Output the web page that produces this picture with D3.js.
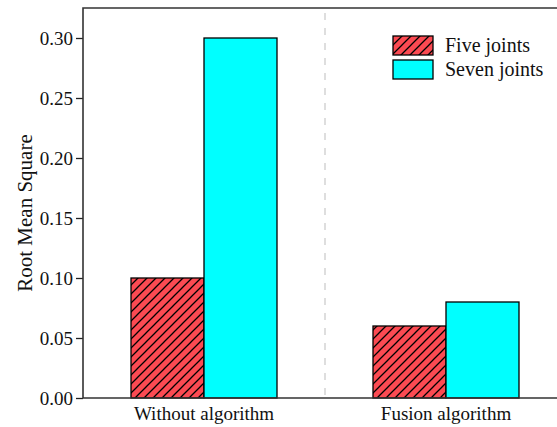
<!DOCTYPE html>
<html>
<head>
<meta charset="utf-8">
<script src="https://cdn.jsdelivr.net/npm/d3@7"></script>
<style>
body { margin: 0; background: #fff; }
svg text { font-family: "Liberation Serif", "Times New Roman", serif; fill: #111; }
</style>
</head>
<body>
<svg id="chart" width="557" height="427"></svg>
<script>
var categories = ["Without algorithm", "Fusion algorithm"];
var seriesNames = ["Five joints", "Seven joints"];
var fiveJoints = [0.10, 0.06];
var sevenJoints = [0.30, 0.08];
var yTicks = [0, 0.05, 0.10, 0.15, 0.20, 0.25, 0.30];

var svg = d3.select("#chart");
var mLeft = 83, mTop = 8, mBottom = 398, mRight = 567;

var x = d3.scaleBand().domain(categories).range([mLeft, mRight]);
var xs = d3.scaleBand().domain(seriesNames)
    .range([x.bandwidth() / 2 - 73, x.bandwidth() / 2 + 73]);
var y = d3.scaleLinear().domain([0, 0.325]).range([mBottom, mTop]);

// hatch pattern for the red bars
var defs = svg.append("defs");
var pat = defs.append("pattern")
    .attr("id", "hatch")
    .attr("patternUnits", "userSpaceOnUse")
    .attr("width", 9).attr("height", 9);
pat.append("rect").attr("width", 9).attr("height", 9).attr("fill", "#fb4a52");
pat.append("path")
    .attr("d", "M-2,2 L2,-2 M0,9 L9,0 M7,11 L11,7")
    .attr("stroke", "#000").attr("stroke-width", 1.3);

var colors = { "Five joints": "url(#hatch)", "Seven joints": "#00ffff" };

// divider between the groups
svg.append("line")
    .attr("x1", x(categories[1])).attr("x2", x(categories[1]))
    .attr("y1", mTop + 5).attr("y2", mBottom)
    .attr("stroke", "#c8c8c8").attr("stroke-width", 1.2)
    .attr("stroke-dasharray", "7,8");

var rows = categories.map(function(c, i) {
    return [{ c: c, s: seriesNames[0], v: fiveJoints[i] },
            { c: c, s: seriesNames[1], v: sevenJoints[i] }];
});

svg.append("g").selectAll("g")
    .data(rows)
    .enter().append("g")
    .attr("transform", function(d) { return "translate(" + x(d[0].c) + ",0)"; })
    .selectAll("rect")
    .data(function(d) { return d; })
    .enter().append("rect")
    .attr("x", function(d) { return xs(d.s); })
    .attr("width", xs.bandwidth())
    .attr("y", function(d) { return y(d.v); })
    .attr("height", function(d) { return mBottom - y(d.v); })
    .attr("fill", function(d) { return colors[d.s]; })
    .attr("stroke", "#000").attr("stroke-width", 1.3);

// axes
var yAxis = svg.append("g")
    .attr("transform", "translate(" + mLeft + ",0)")
    .call(d3.axisLeft(y).tickValues(yTicks).tickSize(7).tickPadding(3)
        .tickFormat(d3.format(".2f")));
yAxis.select(".domain").remove();
yAxis.selectAll("line").attr("stroke", "#222").attr("stroke-width", 1.3);
yAxis.selectAll("text").style("font-size", "19px")
    .style("font-family", "Liberation Serif, serif").attr("fill", "#111");

var xAxis = svg.append("g")
    .attr("transform", "translate(0," + mBottom + ")")
    .call(d3.axisBottom(x).tickSize(0).tickPadding(9));
xAxis.select(".domain").remove();
xAxis.selectAll("text").style("font-size", "19px")
    .style("font-family", "Liberation Serif, serif").attr("fill", "#111");

// frame
svg.append("path")
    .attr("d", "M" + mRight + "," + mTop + "H" + mLeft + "V" + mBottom + "H" + mRight)
    .attr("fill", "none").attr("stroke", "#333").attr("stroke-width", 1.6);

svg.append("text")
    .attr("transform", "translate(32,213) rotate(-90)")
    .attr("text-anchor", "middle")
    .style("font-size", "21px")
    .text("Root Mean Square");

// legend
var legend = svg.append("g").attr("transform", "translate(393,36)");
var items = legend.selectAll("g").data(seriesNames).enter().append("g")
    .attr("transform", function(d, i) { return "translate(0," + (i * 24) + ")"; });
items.append("rect")
    .attr("width", 40).attr("height", 19)
    .attr("fill", function(d) { return colors[d]; })
    .attr("stroke", "#000").attr("stroke-width", 1.3);
items.append("text")
    .attr("x", 52).attr("y", 16)
    .style("font-size", "20px")
    .text(function(d) { return d; });
</script>
</body>
</html>
